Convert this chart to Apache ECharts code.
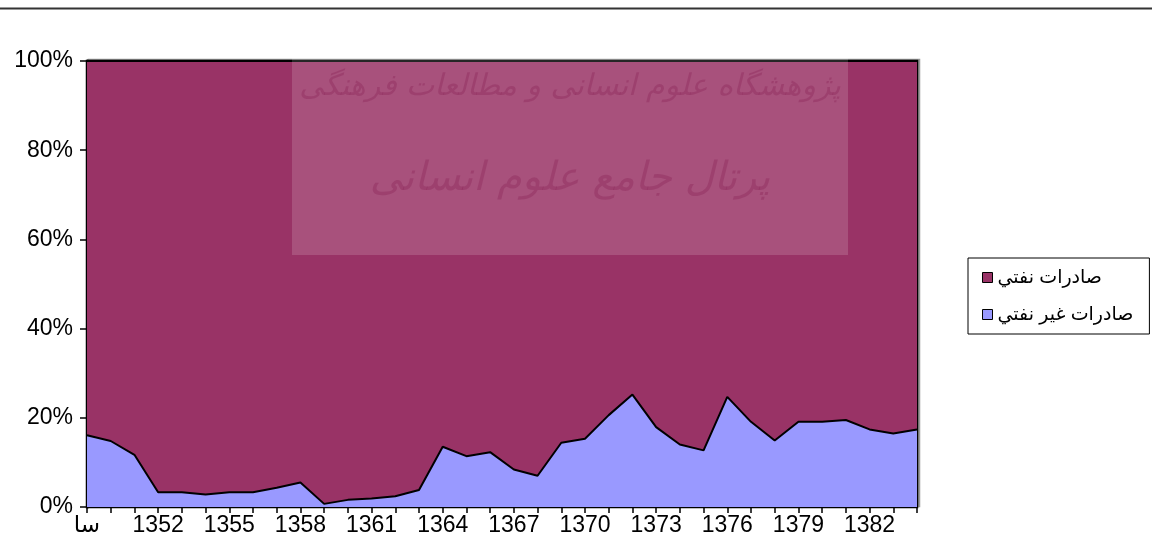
<!DOCTYPE html>
<html>
<head>
<meta charset="utf-8">
<script src="https://cdn.jsdelivr.net/npm/echarts@6/dist/echarts.min.js"></script>
<style>
html,body{margin:0;padding:0;background:#fff;}
#chart{width:1152px;height:544px;}
</style>
</head>
<body>
<div id="chart"></div>
<script>
const categories = ["سا","1350","1351","1352","1353","1354","1355","1356","1357","1358","1359","1360","1361","1362","1363","1364","1365","1366","1367","1368","1369","1370","1371","1372","1373","1374","1375","1376","1377","1378","1379","1380","1381","1382","1383","1384"];
const nonOilShare = [16.1,14.8,11.7,3.3,3.3,2.8,3.3,3.3,4.3,5.5,0.7,1.6,1.9,2.4,3.8,13.5,11.4,12.3,8.4,7.0,14.4,15.3,20.6,25.2,17.9,14.0,12.7,24.7,19.1,14.9,19.1,19.1,19.5,17.4,16.5,17.4];
const oilShare = [83.9,85.2,88.3,96.7,96.7,97.2,96.7,96.7,95.7,94.5,99.3,98.4,98.1,97.6,96.2,86.5,88.6,87.7,91.6,93.0,85.6,84.7,79.4,74.8,82.1,86.0,87.3,75.3,80.9,85.1,80.9,80.9,80.5,82.6,83.5,82.6];
const yTicks = [0,20,40,60,80,100];
const seriesNames = ["صادرات نفتي","صادرات غير نفتي"];

const chart = echarts.init(document.getElementById('chart'), null, {renderer:'canvas'});
const font = 'Arial, "Liberation Sans", "DejaVu Sans", sans-serif';
chart.setOption({
  animation:false,
  backgroundColor:'#fff',
  grid:{left:87,right:235,top:61,bottom:37,show:true,borderColor:'#000',borderWidth:2.5,
        shadowColor:'#999',shadowOffsetX:2,shadowOffsetY:-1,shadowBlur:0},
  legend:{
    orient:'vertical', left:968, top:258,
    data:seriesNames,
    icon:'rect', itemWidth:10, itemHeight:10, itemGap:18,
    borderColor:'#000', borderWidth:1, padding:[10,16,10,14],
    textStyle:{fontSize:19,fontFamily:font,color:'#000'},
    itemStyle:{borderColor:'#000',borderWidth:1}
  },
  xAxis:{
    type:'category', data:categories, boundaryGap:false,
    axisLine:{lineStyle:{color:'#000',width:2}},
    axisTick:{show:true,interval:0,length:6,lineStyle:{color:'#000',width:1.5}},
    axisLabel:{interval:2,color:'#000',fontSize:23,fontFamily:font,margin:7},
    splitLine:{show:false}
  },
  yAxis:{
    type:'value', min:yTicks[0], max:yTicks[yTicks.length-1], interval:20,
    axisLine:{show:true,lineStyle:{color:'#000',width:3}},
    axisTick:{show:true,length:7,lineStyle:{color:'#000',width:1.5}},
    axisLabel:{formatter:'{value}%',color:'#000',fontSize:23,fontFamily:font,margin:14},
    splitLine:{show:false}
  },
  series:[
    {name:seriesNames[1],type:'line',stack:'total',data:nonOilShare,showSymbol:false,
     lineStyle:{color:'#000',width:2},itemStyle:{color:'#9999FF',borderColor:'#000'},
     areaStyle:{color:'#9999FF',opacity:1},z:3},
    {name:seriesNames[0],type:'line',stack:'total',data:oilShare,showSymbol:false,
     lineStyle:{color:'#000',width:2},itemStyle:{color:'#993366',borderColor:'#000'},
     areaStyle:{color:'#993366',opacity:1},z:2}
  ],
  graphic:[
    {type:'line',shape:{x1:0,y1:8.5,x2:1152,y2:8.5},style:{stroke:'#333',lineWidth:2},z:10},
    {type:'rect',shape:{x:292,y:58,width:556,height:197},style:{fill:'rgba(255,255,255,0.15)'},z:20},
    {type:'text',style:{x:570,y:72,text:'پژوهشگاه علوم انسانی و مطالعات فرهنگی',fill:'rgba(140,40,90,0.4)',font:'italic 30px "DejaVu Sans", sans-serif',textAlign:'center'},z:21},
    {type:'text',style:{x:570,y:160,text:'پرتال جامع علوم انسانی',fill:'rgba(140,40,90,0.4)',font:'italic 40px "DejaVu Sans", sans-serif',textAlign:'center'},z:21}
  ]
});
</script>
</body>
</html>
